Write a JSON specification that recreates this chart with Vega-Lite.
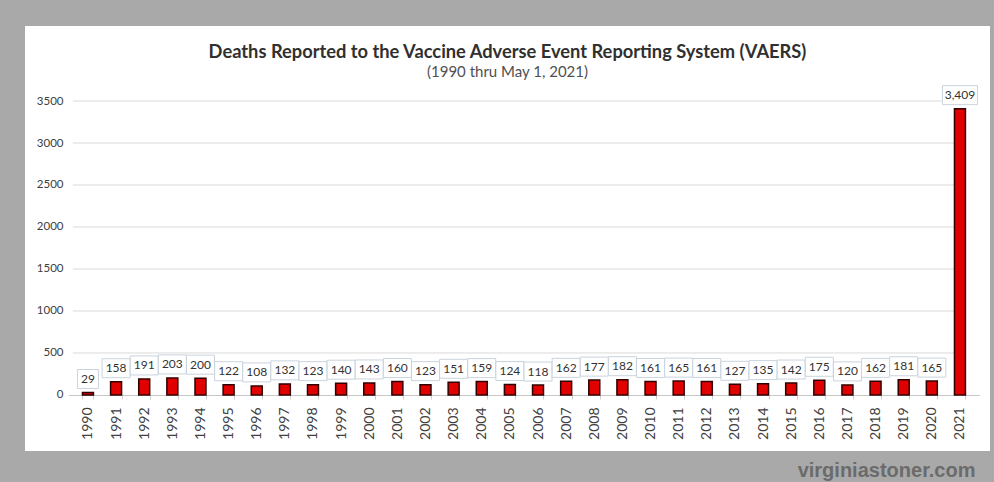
{
  "$schema": "https://vega.github.io/schema/vega-lite/v6.json",
  "width": 965,
  "height": 425,
  "autosize": "none",
  "padding": {"left": 25, "top": 26, "right": 4, "bottom": 31},
  "background": "#a9a9a9",
  "config": {
    "view": {"fill": "#ffffff", "stroke": null},
    "font": "Lato"
  },
  "title": {
    "text": "Deaths Reported to the Vaccine Adverse Event Reporting System (VAERS)",
    "subtitle": "(1990 thru May 1, 2021)",
    "anchor": "middle",
    "offset": -55,
    "font": "Lato",
    "fontSize": 18.3,
    "fontWeight": "bold",
    "color": "#303030",
    "subtitleFont": "Lato",
    "subtitleFontSize": 15,
    "subtitleColor": "#505050",
    "subtitlePadding": 3
  },
  "data": {
    "values": [
      {"year": "1990", "deaths": 29},
      {"year": "1991", "deaths": 158},
      {"year": "1992", "deaths": 191},
      {"year": "1993", "deaths": 203},
      {"year": "1994", "deaths": 200},
      {"year": "1995", "deaths": 122},
      {"year": "1996", "deaths": 108},
      {"year": "1997", "deaths": 132},
      {"year": "1998", "deaths": 123},
      {"year": "1999", "deaths": 140},
      {"year": "2000", "deaths": 143},
      {"year": "2001", "deaths": 160},
      {"year": "2002", "deaths": 123},
      {"year": "2003", "deaths": 151},
      {"year": "2004", "deaths": 159},
      {"year": "2005", "deaths": 124},
      {"year": "2006", "deaths": 118},
      {"year": "2007", "deaths": 162},
      {"year": "2008", "deaths": 177},
      {"year": "2009", "deaths": 182},
      {"year": "2010", "deaths": 161},
      {"year": "2011", "deaths": 165},
      {"year": "2012", "deaths": 161},
      {"year": "2013", "deaths": 127},
      {"year": "2014", "deaths": 135},
      {"year": "2015", "deaths": 142},
      {"year": "2016", "deaths": 175},
      {"year": "2017", "deaths": 120},
      {"year": "2018", "deaths": 162},
      {"year": "2019", "deaths": 181},
      {"year": "2020", "deaths": 165},
      {"year": "2021", "deaths": 3409}
    ]
  },
  "layer": [
    {
      "data": {
        "values": [
          {"level": 500}, {"level": 1000}, {"level": 1500}, {"level": 2000},
          {"level": 2500}, {"level": 3000}, {"level": 3500}
        ]
      },
      "mark": {"type": "rule", "color": "#dadada", "strokeWidth": 1},
      "encoding": {
        "y": {"field": "level", "type": "quantitative"},
        "x": {"datum": "1990", "type": "ordinal", "bandPosition": 0},
        "x2": {"datum": "2021"},
        "xOffset": {"value": -9.5},
        "x2Offset": {"value": 17}
      }
    },
    {
      "mark": {"type": "bar", "fill": "#e00000", "stroke": "#300000", "strokeWidth": 1.5},
      "encoding": {
        "x": {
          "field": "year",
          "type": "ordinal",
          "scale": {"paddingInner": 0.61, "paddingOuter": 0.5, "range": [43.4, 954.5]},
          "axis": {
            "title": "virginiastoner.com",
            "titleX": 950,
            "titleY": 81,
            "titleAlign": "right",
            "titleBaseline": "alphabetic",
            "titleAnchor": null,
            "titleFont": "Liberation Sans",
            "titleFontSize": 20,
            "titleFontWeight": "bold",
            "titleColor": "#6b6b6b",
            "offset": -56,
            "labelAngle": -90,
            "labelFont": "Lato",
            "labelFontSize": 14,
            "labelColor": "#404040",
            "labelPadding": 8,
            "ticks": true,
            "tickBand": "extent",
            "tickSize": 4,
            "tickColor": "#d0d0d0",
            "domainColor": "#c8c8c8"
          }
        },
        "y": {
          "field": "deaths",
          "type": "quantitative",
          "scale": {"domain": [-667, 4393], "nice": false, "zero": false},
          "axis": {
            "title": null,
            "values": [0, 500, 1000, 1500, 2000, 2500, 3000, 3500],
            "offset": -50,
            "domain": false,
            "ticks": false,
            "grid": false,
            "labelPadding": 12,
            "format": "d",
            "labelFont": "Lato",
            "labelFontSize": 11.5,
            "labelColor": "#404040"
          }
        }
      }
    },
    {
      "mark": {"type": "point", "filled": true, "fill": "#ffffff", "stroke": "#c9d3de", "strokeWidth": 1, "opacity": 1, "yOffset": -13.5},
      "encoding": {
        "x": {"field": "year", "type": "ordinal"},
        "y": {"field": "deaths", "type": "quantitative"},
        "size": {"value": 400},
        "shape": {
          "condition": [
            {"test": "datum.deaths >= 1000", "value": "M-1.75,-0.95H1.75V0.95H-1.75Z"},
            {"test": "datum.deaths < 100", "value": "M-1.05,-0.95H1.05V0.95H-1.05Z"}
          ],
          "value": "M-1.4,-0.95H1.4V0.95H-1.4Z"
        }
      }
    },
    {
      "mark": {"type": "text", "font": "Lato", "fontSize": 12, "color": "#333333", "baseline": "middle", "align": "center", "yOffset": -13.5},
      "encoding": {
        "x": {"field": "year", "type": "ordinal"},
        "y": {"field": "deaths", "type": "quantitative"},
        "text": {"field": "deaths", "type": "quantitative", "format": ",d"}
      }
    }
  ]
}
